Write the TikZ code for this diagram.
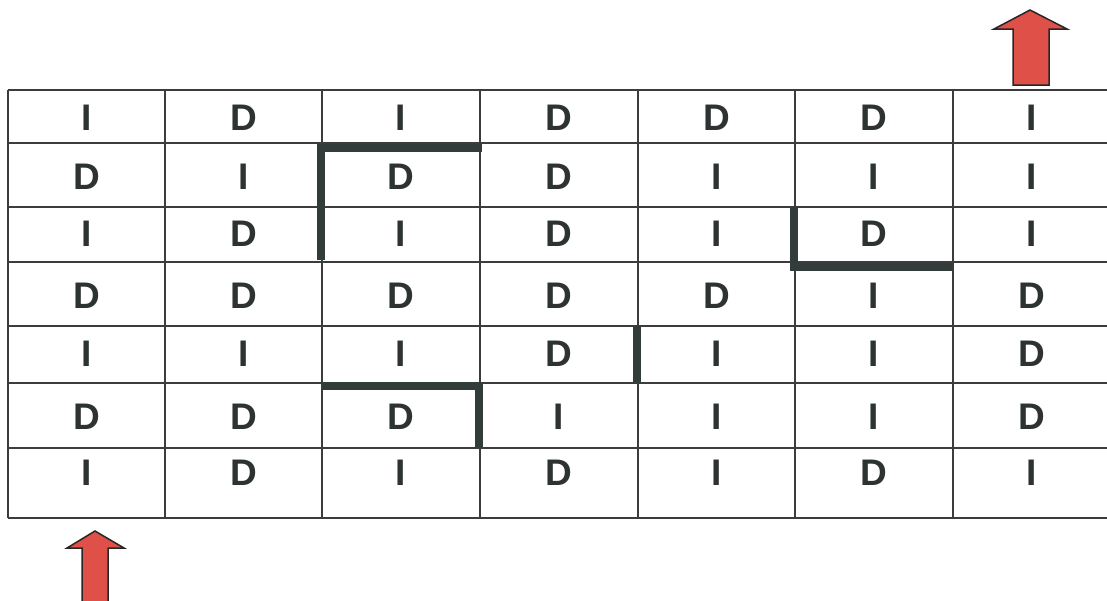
\documentclass[tikz,border=0pt]{standalone}
\usepackage{fontspec}
\setmainfont{Liberation Sans}
\definecolor{gridc}{RGB}{60,60,60}
\definecolor{thickc}{RGB}{50,60,58}
\definecolor{txtc}{RGB}{45,50,50}
\definecolor{arrowred}{RGB}{222,80,72}
\begin{document}
\begin{tikzpicture}[x=1pt,y=-1pt,
  gridline/.style={draw=gridc,line width=1.3pt},
  thickline/.style={draw=thickc,line width=8pt,line cap=rect},
  letter/.style={text=txtc,font=\fontsize{37}{37}\selectfont\bfseries},
  bigarrow/.style={draw=black!85,line width=1.5pt,fill=arrowred,line join=miter}]
\useasboundingbox (0,0) rectangle (1107,600);
\clip (0,0) rectangle (1107,600);
% grid
\def\xs{8,165,322,480,638,795,953}
\def\ys{90,143,207,262,326,383,448,518}
\foreach \y in \ys {\draw[gridline] (8,\y) -- (1120,\y);}
\foreach \x in \xs {\draw[gridline] (\x,90) -- (\x,518);}
% letters
\foreach \row [count=\r] in {
  {I,D,I,D,D,D,I},
  {D,I,D,D,I,I,I},
  {I,D,I,D,I,D,I},
  {D,D,D,D,D,I,D},
  {I,I,I,D,I,I,D},
  {D,D,D,I,I,I,D},
  {I,D,I,D,I,D,I}} {
  \foreach \t [count=\c] in \row {
    \pgfmathsetmacro{\cx}{{8,165,322,480,638,795,953,1111}[\c-1]/2+{8,165,322,480,638,795,953,1111}[\c]/2}
    \pgfmathsetmacro{\cy}{{118,177,234,296,354,417,473}[\r-1]}
    \node[letter] (cell-\r-\c) at (\cx,\cy) {\t};
  }
}
% thick borders
\coordinate (a1) at (478,148); \coordinate (a2) at (321,148); \coordinate (a3) at (321,256);
\draw[thickline] (a1) -- (a2) -- (a3);
\coordinate (b1) at (794,211); \coordinate (b2) at (794,267); \coordinate (b3) at (948,267);
\draw[thickline] (b1) -- (b2) -- (b3);
\coordinate (c1) at (637,330); \coordinate (c2) at (637,378);
\draw[thickline] (c1) -- (c2);
\coordinate (d1) at (326,386); \coordinate (d2) at (479,386); \coordinate (d3) at (479,443);
\draw[thickline] (d1) -- (d2) -- (d3);
% arrows
\draw[bigarrow] (1030,10) -- (1067,29) -- (1049,29) -- (1049,85) -- (1013,85) -- (1013,29) -- (994,29) -- cycle;
\draw[bigarrow] (95,531) -- (124,548) -- (108,548) -- (108,610) -- (82,610) -- (82,548) -- (67,548) -- cycle;
\end{tikzpicture}
\end{document}
